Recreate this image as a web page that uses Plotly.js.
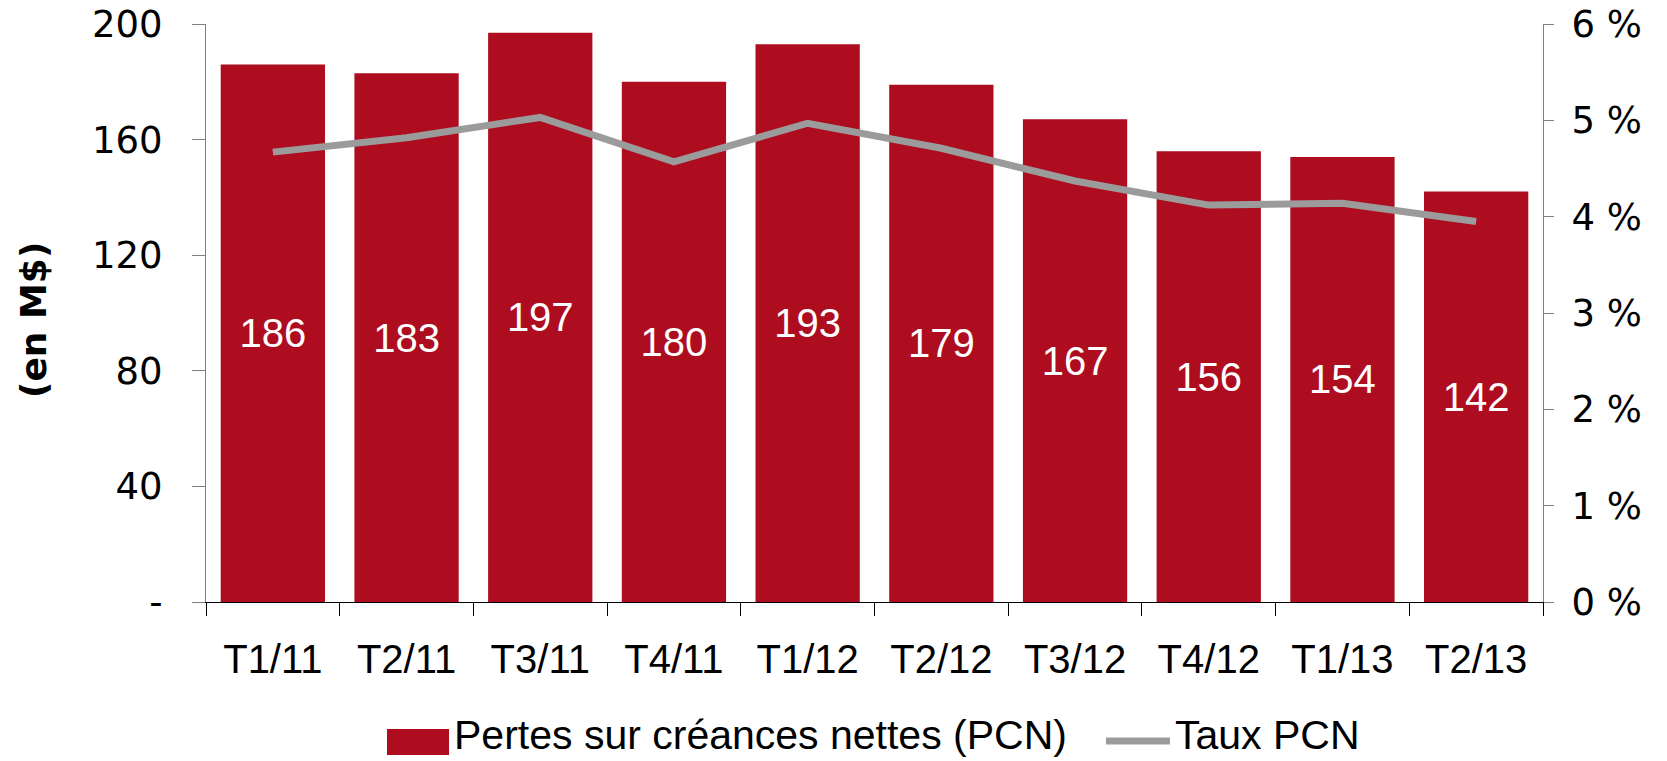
<!DOCTYPE html>
<html>
<head>
<meta charset="utf-8">
<script src="https://cdn.plot.ly/plotly-3.0.1.min.js"></script>
<style>
html, body { margin: 0; padding: 0; background: #fff; }
#chart { width: 1667px; height: 761px; }
</style>
</head>
<body>
<div id="chart"></div>
<script>
const categories = ["T1/11", "T2/11", "T3/11", "T4/11", "T1/12", "T2/12", "T3/12", "T4/12", "T1/13", "T2/13"];
const pcnValues = [186, 183, 197, 180, 193, 179, 167, 156, 154, 142];
const tauxValues = [4.67, 4.82, 5.03, 4.57, 4.97, 4.71, 4.37, 4.12, 4.14, 3.95];
const leftTickVals = [0, 40, 80, 120, 160, 200];
const leftTickText = ["-", "40", "80", "120", "160", "200"];
const rightTickVals = [0, 1, 2, 3, 4, 5, 6];
const rightTickText = ["0 %", "1 %", "2 %", "3 %", "4 %", "5 %", "6 %"];
const seriesNames = ["Pertes sur créances nettes (PCN)", "Taux PCN"];

const barColor = "#AE0D1F";
const lineColor = "#9B9B9B";
const narrow = "Liberation Sans, Arial, sans-serif";
const wide = "DejaVu Sans, Verdana, sans-serif";

const traces = [
  {
    type: "bar",
    x: categories,
    y: pcnValues,
    name: seriesNames[0],
    marker: { color: barColor },
    text: pcnValues.map(String),
    textposition: "inside",
    insidetextanchor: "middle",
    constraintext: "none",
    textfont: { family: narrow, size: 40, color: "#ffffff" },
    hoverinfo: "x+y"
  },
  {
    type: "scatter",
    mode: "lines",
    x: categories,
    y: tauxValues,
    yaxis: "y2",
    name: seriesNames[1],
    line: { color: lineColor, width: 7 },
    hoverinfo: "x+y"
  }
];

// paper-coordinate helpers for the hand-drawn legend
const L = 206, R = 1543, T = 24, B = 602;
const px = v => (v - L) / (R - L);
const py = v => (B - v) / (B - T);

const layout = {
  width: 1667,
  height: 761,
  margin: { l: L, r: 1667 - R, t: T, b: 761 - B },
  paper_bgcolor: "#ffffff",
  plot_bgcolor: "#ffffff",
  showlegend: false,
  bargap: 0.22,
  font: { family: narrow, color: "#000000" },
  xaxis: {
    type: "category",
    tickson: "boundaries",
    ticks: "outside",
    ticklen: 13,
    tickcolor: "#000000",
    showline: true,
    linecolor: "#000000",
    linewidth: 1,
    showgrid: false,
    zeroline: false,
    tickfont: { family: narrow, size: 40, color: "#000000" },
    ticklabelstandoff: 22
  },
  yaxis: {
    range: [0, 200],
    tickvals: leftTickVals,
    ticktext: leftTickText,
    ticks: "outside",
    ticklen: 13,
    tickcolor: "#808080",
    showline: true,
    linecolor: "#808080",
    linewidth: 1,
    showgrid: false,
    zeroline: false,
    tickfont: { family: wide, size: 37, color: "#000000" },
    ticklabelstandoff: 22
  },
  yaxis2: {
    overlaying: "y",
    side: "right",
    range: [0, 6],
    tickvals: rightTickVals,
    ticktext: rightTickText,
    ticks: "outside",
    ticklen: 10,
    tickcolor: "#808080",
    showline: true,
    linecolor: "#808080",
    linewidth: 1,
    showgrid: false,
    zeroline: false,
    tickfont: { family: wide, size: 37, color: "#000000" },
    ticklabelstandoff: 10
  },
  shapes: [
    { type: "rect", xref: "paper", yref: "paper",
      x0: px(387), x1: px(449), y0: py(755), y1: py(729),
      fillcolor: barColor, line: { width: 0 } },
    { type: "line", xref: "paper", yref: "paper",
      x0: px(1106), x1: px(1170), y0: py(741), y1: py(741),
      line: { color: lineColor, width: 7 } }
  ],
  annotations: [
    { xref: "paper", yref: "paper", x: px(33), y: py(320),
      text: "<b>(en M$)</b>", textangle: -90, showarrow: false,
      xanchor: "center", yanchor: "middle",
      font: { family: wide, size: 36, color: "#000000" } },
    { xref: "paper", yref: "paper", x: px(452), y: py(760),
      text: seriesNames[0], showarrow: false, xanchor: "left", yanchor: "bottom",
      font: { family: narrow, size: 41, color: "#000000" } },
    { xref: "paper", yref: "paper", x: px(1173), y: py(760),
      text: seriesNames[1], showarrow: false, xanchor: "left", yanchor: "bottom",
      font: { family: narrow, size: 41, color: "#000000" } }
  ]
};

Plotly.newPlot("chart", traces, layout, { displayModeBar: false, staticPlot: true });
</script>
</body>
</html>
